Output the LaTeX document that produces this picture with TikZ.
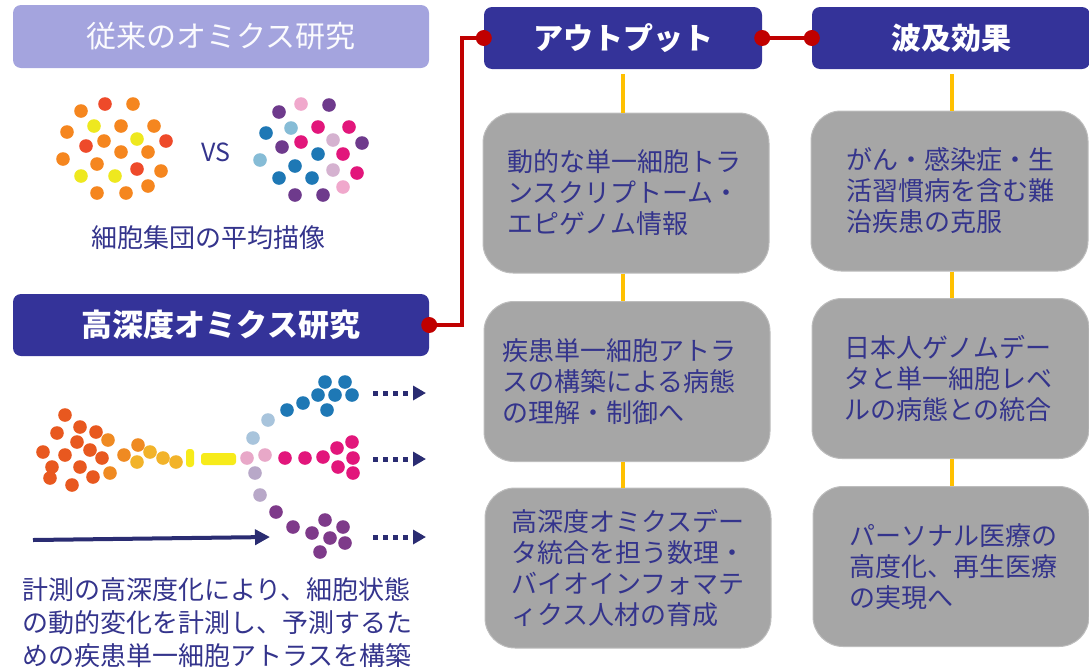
\documentclass[tikz,border=0pt]{standalone}
\usepackage{fontspec}
\newfontfamily\jp{Noto Sans CJK JP}
\usetikzlibrary{arrows.meta}

\definecolor{navytext}{HTML}{34348C}
\definecolor{hdrfill}{HTML}{343399}
\definecolor{litefill}{HTML}{A4A4DE}
\definecolor{grayfill}{HTML}{A6A6A6}
\definecolor{grayedge}{HTML}{BDBDBD}
\definecolor{linkred}{HTML}{C00000}
\definecolor{linkyel}{HTML}{FFC000}
\definecolor{arrnavy}{HTML}{2A2C72}
% averaged population
\definecolor{cOr}{HTML}{F5861F}
\definecolor{cRd}{HTML}{EE4A2A}
\definecolor{cYe}{HTML}{EEE81F}
% single-cell population
\definecolor{cPu}{HTML}{6E3A8C}
\definecolor{cPk}{HTML}{F0A8CC}
\definecolor{cBl}{HTML}{1E78B5}
\definecolor{cLb}{HTML}{86BCD6}
\definecolor{cMg}{HTML}{E2167B}
\definecolor{cLp}{HTML}{D5B2D0}
% differentiation flow
\definecolor{fRd}{HTML}{E8581F}
\definecolor{fOr}{HTML}{EF8A22}
\definecolor{fYo}{HTML}{F2B32A}
\definecolor{fYe}{HTML}{F7EB1A}
\definecolor{fLpk}{HTML}{E8A8C8}
\definecolor{fLbl}{HTML}{A8C4DC}
\definecolor{fLpu}{HTML}{B8A8C8}
\definecolor{fPu}{HTML}{7E3A8A}

\tikzset{
  hdrbox/.style={rounded corners=8, fill=hdrfill, text=white, inner sep=0,
    font=\jp\bfseries\fontsize{30}{36}\selectfont},
  litebox/.style={rounded corners=8, fill=litefill, text=white!96!litefill, inner sep=0,
    font=\jp\fontsize{30}{36}\selectfont},
  infobox/.style={rounded corners=30, fill=grayfill, draw=grayedge, line width=1,
    text=navytext, align=left, inner ysep=0, minimum height=160,
    font=\jp\fontsize{26}{31}\selectfont},
  caption/.style={text=navytext, inner sep=0, font=\jp\fontsize{26}{33}\selectfont},
  redlink/.style={draw=linkred, line width=4},
  reddot/.style={fill=linkred},
  yellink/.style={draw=linkyel, line width=4},
  flowarrow/.style={draw=arrnavy, line width=4, -{Triangle[length=15, width=15]}},
  nextarrow/.style={draw=arrnavy, line width=5, dash pattern=on 5 off 5,
    -{Triangle[length=13, width=14]}},
  cell/.style={fill=#1},
}

\begin{document}
\begin{tikzpicture}[x=1pt, y=-1pt]
\useasboundingbox (0,0) rectangle (1089,667);

% ---------- left column: headings ----------
\node[litebox, minimum width=416, minimum height=63] (conv) at (221,36.5) {従来のオミクス研究};
\node[hdrbox, minimum width=416, minimum height=62,
  font=\jp\bfseries\fontsize{31}{36}\selectfont] (deep) at (221,325) {高深度オミクス研究};

% averaged picture of a population
\foreach \x/\y/\c in {105/104/cRd, 133/104/cOr, 81/111/cOr, 94/126/cYe, 121/126/cOr,
  154/126/cOr, 67/132/cOr, 104/141/cOr, 137/139/cYe, 86/146/cRd, 166/141/cRd,
  121/152/cOr, 148/152/cOr, 63/159/cOr, 97/164/cOr, 137/169/cRd, 161/171/cOr,
  81/176/cYe, 115/176/cYe, 97/193/cOr, 126/193/cOr, 148/186/cOr}
  \fill[cell=\c] (\x,\y) circle[radius=6.8];

\node[text=navytext, font=\jp\fontsize{25}{30}\selectfont] (vs) at (216,152) {VS};

% single-cell picture of the same population
\foreach \x/\y/\c in {279/112/cPu, 301/104/cPk, 329/105/cPu, 266/133/cBl, 291/128/cLb,
  318/127/cMg, 349/127/cMg, 282/147/cPu, 301/142/cMg, 333/140/cLp, 362/143/cPu,
  318/154/cBl, 343/154/cMg, 260/160/cLb, 295/166/cBl, 333/170/cLp, 357/173/cMg,
  279/178/cBl, 312/178/cBl, 343/187/cPk, 295/195/cPu, 323/195/cPu}
  \fill[cell=\c] (\x,\y) circle[radius=6.8];

\node[caption] (avgcap) at (208,238) {細胞集団の平均描像};

% ---------- differentiation flow ----------
\foreach \x/\y/\c in {65/415/fRd, 80/427/fRd, 57/433/fRd, 96/432/fRd, 77/442/fRd,
  43/452/fRd, 65/455/fRd, 90/450/fRd, 102/458/fRd, 52/467/fRd, 80/467/fRd,
  50/478/fRd, 93/477/fRd, 72/485/fRd, 108/440/fOr, 110/473/fOr,
  124/455/fOr, 138/445/fOr, 137/462/fYo, 150/452/fYo, 163/458/fYo, 176/462/fYo,
  247/458/fLpk, 265/455/fLpk,
  253/438/fLbl, 268/420/fLbl, 287/410/cBl, 303/403/cBl, 325/382/cBl, 345/382/cBl,
  318/395/cBl, 335/395/cBl, 352/395/cBl, 327/410/cBl,
  285/458/cMg, 305/458/cMg, 323/457/cMg, 337/448/cMg, 352/442/cMg, 353/458/cMg,
  338/467/cMg, 353/473/cMg,
  255/473/fLpu, 260/495/fLpu, 276/512/fPu, 293/527/fPu, 325/520/fPu, 343/527/fPu,
  312/533/fPu, 330/538/fPu, 345/543/fPu, 320/552/fPu}
  \fill[cell=\c] (\x,\y) circle[radius=6.8];
\fill[cell=fYe, rounded corners=3] (186,449) rectangle (194,467);
\fill[cell=fYe, rounded corners=3] (201,453) rectangle (236,465);

\coordinate (tstart) at (33,540);
\coordinate (tend) at (270,537);
\draw[flowarrow] (tstart) -- (tend);

\coordinate (na1) at (373,393);  \coordinate (nb1) at (426,393);
\coordinate (na2) at (373,459);  \coordinate (nb2) at (426,459);
\coordinate (na3) at (373,537);  \coordinate (nb3) at (426,537);
\draw[nextarrow] (na1) -- (nb1);
\draw[nextarrow] (na2) -- (nb2);
\draw[nextarrow] (na3) -- (nb3);

\node[caption, anchor=west, align=left] (flowcap) at (22,623)
  {計測の高深度化により、細胞状態\\の動的変化を計測し、予測するた\\めの疾患単一細胞アトラスを構築};

% ---------- right side: headings ----------
\node[hdrbox, minimum width=278, minimum height=62] (out) at (623,38) {アウトプット};
\node[hdrbox, minimum width=278, minimum height=62] (eff) at (951,38) {波及効果};

% ---------- outputs ----------
\node[infobox, minimum width=286, inner xsep=24, text width=238] (o1) at (626,193)
  {動的な単一細胞トラ\\ンスクリプトーム・\\エピゲノム情報};
\node[infobox, minimum width=286, inner xsep=18, text width=250] (o2) at (627,381.5)
  {疾患単一細胞アトラ\\スの構築による病態\\の理解・制御へ};
\node[infobox, minimum width=286, inner xsep=26, text width=234] (o3) at (628,568)
  {高深度オミクスデー\\タ統合を担う数理・\\バイオインフォマテ\\ィクス人材の育成};

% ---------- ripple effects ----------
\node[infobox, minimum width=277, inner xsep=35, text width=207] (e1) at (949.5,191)
  {がん・感染症・生\\活習慣病を含む難\\治疾患の克服};
\node[infobox, minimum width=277, inner xsep=32, text width=213] (e2) at (950.5,378.5)
  {日本人ゲノムデー\\タと単一細胞レベ\\ルの病態との統合};
\node[infobox, minimum width=276, inner xsep=36, text width=204] (e3) at (951,566.5)
  {パーソナル医療の\\高度化、再生医療\\の実現へ};

% ---------- connectors ----------
\draw[redlink] (deep.east) -- ++(33,0) |- (out.west);
\draw[redlink] (out.east) -- (eff.west);
\foreach \p in {deep.east, out.west, out.east, eff.west}
  \fill[reddot] (\p) circle[radius=8];

\draw[yellink, shorten <=5] (out.south) -- (out.south |- o1.north);
\draw[yellink] (out.south |- o1.south) -- (out.south |- o2.north);
\draw[yellink] (out.south |- o2.south) -- (out.south |- o3.north);
\draw[yellink, shorten <=5] ([xshift=1]eff.south) -- ([xshift=1]eff.south |- e1.north);
\draw[yellink] ([xshift=1]eff.south |- e1.south) -- ([xshift=1]eff.south |- e2.north);
\draw[yellink] ([xshift=1]eff.south |- e2.south) -- ([xshift=1]eff.south |- e3.north);
\end{tikzpicture}
\end{document}
